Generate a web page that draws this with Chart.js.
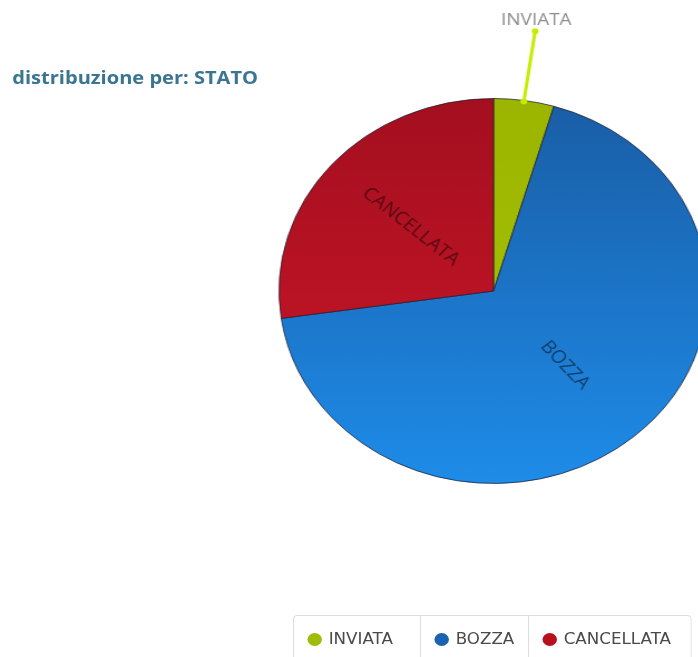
<!DOCTYPE html>
<html>
<head>
<meta charset="utf-8">
<script src="https://cdn.jsdelivr.net/npm/chart.js@4.4.0/dist/chart.umd.min.js"></script>
<style>
html,body{margin:0;padding:0;background:#fff;width:698px;height:657px;overflow:hidden;}
#wrap{position:absolute;left:0;top:0;width:660px;height:657px;transform:scaleX(1.114);transform-origin:0 0;}
#title{position:absolute;left:11px;top:68px;font:bold 18px/18px "Open Sans",sans-serif;color:#3a7592;white-space:nowrap;}
#pie{position:absolute;left:0;top:0;}
#legend{position:absolute;left:263px;top:615px;display:flex;border:1px solid #ddd;border-bottom:none;border-radius:4px 4px 0 0;height:46px;}
.cell{display:flex;align-items:center;padding-left:12px;box-sizing:border-box;border-right:1px solid #ddd;font:15px "DejaVu Sans",sans-serif;color:#4a4a4a;}
.cell:last-child{border-right:none;}
.dot{width:13px;height:13px;border-radius:50%;margin-right:6px;}
</style>
</head>
<body>
<div id="wrap">
  <div id="title">distribuzione per: STATO</div>
  <canvas id="pie" width="660" height="657"></canvas>
  <div id="legend"></div>
</div>
<script>
// dati
const categories=['INVIATA','BOZZA','CANCELLATA'];
const values=[2,30,12];

// colori (sfumatura verticale per fetta)
const topColors=['#9cb500','#1a5da5','#a40f1f'];
const bottomColors=['#a6c600','#1e8ce9','#cd1729'];
const legendColors=['#9fbc0a','#1a63ae','#b8101f'];
const cellWidths=[114,97,145];

// legenda
const legend=document.getElementById('legend');
categories.forEach((c,i)=>{
  const cell=document.createElement('div');
  cell.className='cell';
  cell.style.width=cellWidths[i]+'px';
  cell.innerHTML='<span class="dot" style="background:'+legendColors[i]+'"></span>'+c;
  legend.appendChild(cell);
});

// etichette sulle fette
const sliceLabels={
  id:'sliceLabels',
  afterDatasetsDraw(chart){
    const c=chart.ctx;
    const meta=chart.getDatasetMeta(0);
    meta.data.forEach((arc,i)=>{
      const p=arc.getProps(['x','y','startAngle','endAngle','outerRadius'],true);
      const mid=(p.startAngle+p.endAngle)/2;
      const cos=Math.cos(mid),sin=Math.sin(mid);
      c.save();
      if(p.endAngle-p.startAngle<0.5){
        // fetta piccola: etichetta esterna con linea
        const x0=p.x+cos*(p.outerRadius-1),y0=p.y+sin*(p.outerRadius-1);
        const x1=p.x+cos*(p.outerRadius+70),y1=p.y+sin*(p.outerRadius+70);
        c.strokeStyle='#c8ec00';
        c.fillStyle='#c8ec00';
        c.lineWidth=3;
        c.beginPath();c.moveTo(x0,y0);c.lineTo(x1,y1);c.stroke();
        c.beginPath();c.arc(x0,y0,3,0,Math.PI*2);c.fill();
        c.beginPath();c.arc(x1,y1,3,0,Math.PI*2);c.fill();
        c.fillStyle='#8e8e8e';
        c.font='17px "Open Sans"';
        c.textAlign='center';
        c.textBaseline='bottom';
        c.fillText(categories[i],x1+1,y1-3);
      }else{
        const r=p.outerRadius*0.51;
        let rot=mid;
        while(rot>Math.PI/2)rot-=Math.PI;
        while(rot<-Math.PI/2)rot+=Math.PI;
        c.translate(p.x+cos*r,p.y+sin*r);
        c.rotate(rot);
        c.fillStyle='rgba(0,0,0,0.5)';
        c.font='18px "Open Sans"';
        c.textAlign='center';
        c.textBaseline='middle';
        c.fillText(categories[i],0,0);
      }
      c.restore();
    });
  }
};

function sliceGradient(ctx){
  const chart=ctx.chart,a=chart.chartArea,i=ctx.dataIndex;
  if(!a)return topColors[i];
  const g=chart.ctx.createLinearGradient(0,a.top,0,a.bottom);
  g.addColorStop(0,topColors[i]);
  g.addColorStop(1,bottomColors[i]);
  return g;
}

new Chart(document.getElementById('pie'),{
  type:'pie',
  data:{
    labels:categories,
    datasets:[{
      data:values,
      backgroundColor:sliceGradient,
      borderColor:'rgba(30,30,50,0.75)',
      borderWidth:1
    }]
  },
  options:{
    responsive:false,
    animation:false,
    layout:{padding:{left:250,right:24,top:98,bottom:173}},
    plugins:{legend:{display:false},tooltip:{enabled:false}}
  },
  plugins:[sliceLabels]
});
</script>
</body>
</html>
